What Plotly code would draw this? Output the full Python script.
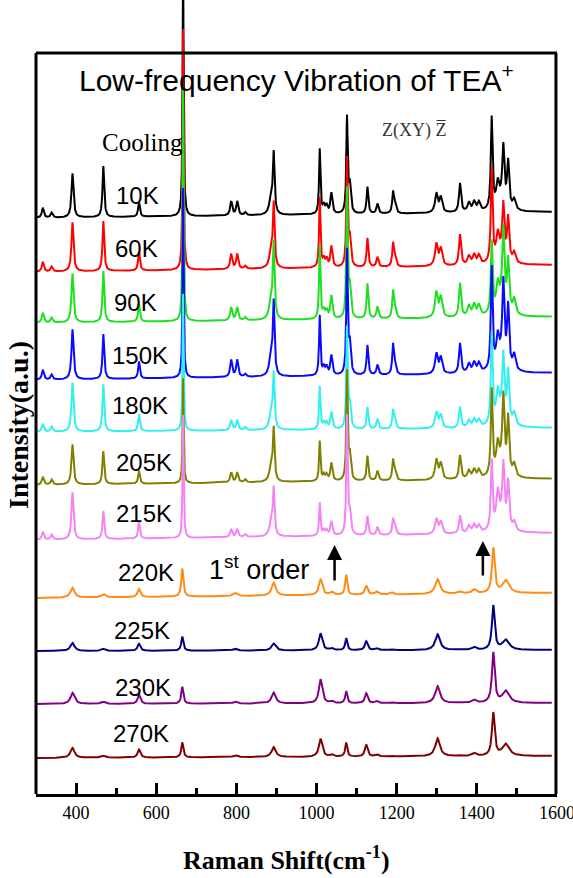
import numpy as np
import plotly.graph_objects as go

# ---------------- data ----------------
labels = ["10K", "60K", "90K", "150K", "180K", "205K", "215K",
          "220K", "225K", "230K", "270K"]
colors = ["#000000", "#FF0000", "#1EE01E", "#0A0AFF", "#33F0F0", "#808000",
          "#F582F5", "#FF8A14", "#000080", "#800080", "#800000"]

# baseline pixel rows (left end, right end) of every spectrum
base_left_px = [218, 272, 323, 380, 432, 485, 540, 598, 651, 704, 758]
base_right_px = [212, 265, 317, 373, 428, 479, 533, 593, 650, 703, 756]

# low-temperature phase (10K ... 215K): band centres, half widths, heights
lt_pos = [317, 339, 391, 468, 557, 667, 787, 802, 822, 886, 893, 1008, 1018,
          1025, 1037, 1076, 1083, 1127, 1152, 1191, 1196, 1299, 1310, 1358,
          1380, 1393, 1405, 1437, 1452, 1460, 1466, 1478, 1493]
lt_hwhm = [3, 3, 3, 2.5, 2.5, 1.5, 3, 3, 3, 5, 2.5, 2, 3, 3, 3, 2, 3, 2.5, 3,
           2.5, 3, 4, 4, 3, 4, 4, 4, 2.5, 4, 15, 3, 3, 4]
lt_heights = {
    "10K":  [10, 5, 44, 51, 15, 260, 14, 14, 3, 15, 60, 65, 8, 8, 21, 95, 28,
             27, 10, 21, 8, 19, 15, 29, 9, 10, 9, 91, 20, 12, 55, 45, 10],
    "60K":  [10, 5, 49, 50, 19, 241, 15, 15, 3, 15, 63, 70, 8, 8, 21, 107, 28,
             29, 10, 23, 8, 22, 17, 31, 9, 10, 9, 93, 22, 12, 50, 42, 10],
    "90K":  [10, 5, 49, 51, 18, 235, 13, 13, 3, 18, 74, 74, 8, 8, 23, 128, 30,
             35, 12, 27, 8, 25, 20, 34, 11, 12, 11, 71, 22, 15, 75, 50, 15],
    "150K": [10, 5, 50, 45, 17, 190, 17, 17, 3, 18, 72, 60, 8, 8, 20, 123, 30,
             30, 10, 30, 8, 20, 16, 30, 9, 10, 9, 101, 25, 15, 78, 60, 15],
    "180K": [8, 5, 49, 47, 17, 137, 10, 10, 3, 14, 55, 43, 6, 6, 17, 100, 24,
             22, 10, 18, 8, 16, 13, 21, 7, 8, 7, 90, 25, 15, 60, 50, 12],
    "205K": [8, 5, 40, 33, 13, 105, 10, 10, 3, 13, 52, 40, 6, 6, 18, 108, 24,
             25, 10, 20, 8, 20, 16, 24, 8, 9, 8, 85, 24, 15, 70, 55, 12],
    "215K": [8, 5, 47, 28, 17, 123, 8, 8, 3, 12, 47, 33, 5, 5, 14, 118, 22,
             19, 8, 15, 8, 15, 12, 18, 7, 8, 7, 68, 30, 15, 56, 45, 8],
}

# high-temperature phase (220K ... 270K)
ht_pos = [391, 468, 557, 665, 797, 893, 1010, 1038, 1074, 1124, 1150, 1187,
          1302, 1357, 1393, 1441, 1472]
ht_hwhm = [6, 6, 4, 3, 6, 6, 5, 5, 3, 4, 5, 5, 7, 6, 6, 4, 10]
ht_heights = {
    "220K": [10, 3, 8, 28, 3, 13, 16, 3, 20, 9, 3, 2, 15, 2, 4, 45, 13],
    "225K": [8, 2, 7, 14, 2, 7, 17, 2, 12, 9, 2, 1, 16, 1, 3, 44, 10],
    "230K": [11, 2, 9, 17, 2, 11, 24, 2, 12, 10, 2, 1, 17, 1, 3, 50, 12],
    "270K": [10, 2, 8, 15, 2, 10, 18, 2, 14, 12, 2, 1, 18, 1, 3, 43, 12],
}

tick_values = [400, 600, 800, 1000, 1200, 1400, 1600]
minor_values = [500, 700, 900, 1100, 1300, 1500]

x_start, x_end = 300, 1587
# ------------------------------------------------------------

FIG_W, FIG_H = 573, 878
PLOT_H = 794  # pixel rows of plotting area (top of page to x axis)
TOP_PX = 53   # frame top row
SERIF = "Liberation Serif, Times New Roman, serif"
SANS = "Liberation Sans, Arial, sans-serif"

x = np.arange(x_start, x_end + 0.01, 0.25)


def spectrum(pos, hwhm, hts):
    y = np.zeros_like(x)
    for p, w, h in zip(pos, hwhm, hts):
        y += h / (1.0 + ((x - p) / w) ** 2)
    return y


fig = go.Figure()
for i, lab in enumerate(labels):
    if lab in lt_heights:
        sig = spectrum(lt_pos, lt_hwhm, lt_heights[lab])
    else:
        sig = spectrum(ht_pos, ht_hwhm, ht_heights[lab])
    b0 = PLOT_H - base_left_px[i]
    b1 = PLOT_H - base_right_px[i]
    base = b0 + (b1 - b0) * (x - x_start) / (x_end - x_start)
    fig.add_trace(go.Scatter(x=x, y=base + sig, mode="lines",
                             line=dict(color=colors[i], width=2),
                             name=lab, showlegend=False, hoverinfo="skip"))

label_pos = [(137, 195), (136, 248), (135, 302), (140, 355), (140, 405),
             (144, 462), (144, 513), (146, 572), (142, 630), (143, 687),
             (141, 733)]

annotations = []
for lab, (px, py) in zip(labels, label_pos):
    annotations.append(dict(
        x=300 + (px - 36) / 0.4, y=PLOT_H - py, xref="x", yref="y",
        text=lab, showarrow=False, xanchor="center", yanchor="middle",
        font=dict(family=SANS, size=24, color="black")))

annotations += [
    dict(x=300 + (296 - 36) / 0.4, y=PLOT_H - 78, xref="x", yref="y",
         text="Low-frequency Vibration of TEA<sup>+</sup>", showarrow=False,
         xanchor="center", yanchor="middle",
         font=dict(family=SANS, size=30, color="black")),
    dict(x=300 + (142 - 36) / 0.4, y=PLOT_H - 142, xref="x", yref="y",
         text="Cooling", showarrow=False, xanchor="center", yanchor="middle",
         font=dict(family=SERIF, size=25, color="black")),
    dict(x=300 + (413 - 36) / 0.4, y=PLOT_H - 130, xref="x", yref="y",
         text="Z(XY) Z\u0305", showarrow=False, xanchor="center",
         yanchor="middle",
         font=dict(family=SERIF, size=18, color="#333333")),
    dict(x=300 + (207 - 36) / 0.4, y=PLOT_H - 568, xref="x", yref="y",
         text="1<sup>st</sup> order", showarrow=False, xanchor="left",
         yanchor="middle",
         font=dict(family=SANS, size=27, color="black")),
    # arrows marking the 1st-order features
    dict(x=1045, y=PLOT_H - 545, ax=1045, ay=PLOT_H - 582, xref="x", yref="y",
         axref="x", ayref="y", text="", showarrow=True, arrowhead=2,
         arrowsize=1.2, arrowwidth=2.5, arrowcolor="black", standoff=0),
    dict(x=1415, y=PLOT_H - 541, ax=1415, ay=PLOT_H - 577, xref="x", yref="y",
         axref="x", ayref="y", text="", showarrow=True, arrowhead=2,
         arrowsize=1.2, arrowwidth=2.5, arrowcolor="black", standoff=0),
    # axis titles
    dict(x=(286 - 36) / 521, y=-(858 - PLOT_H) / PLOT_H, xref="paper",
         yref="paper", text="<b>Raman Shift(cm<sup>-1</sup>)</b>",
         showarrow=False, xanchor="center", yanchor="middle",
         font=dict(family=SERIF, size=26, color="black")),
    dict(x=(18 - 36) / 521, y=(PLOT_H - 425) / PLOT_H, xref="paper",
         yref="paper", text="<b>Intensity(a.u.)</b>", textangle=-90,
         showarrow=False, xanchor="center", yanchor="middle",
         font=dict(family=SERIF, size=28, color="black")),
]

frame_top = PLOT_H - TOP_PX
frame = dict(color="black", width=3)
shapes = [
    dict(type="line", xref="paper", yref="y", x0=0, x1=1, y0=frame_top,
         y1=frame_top, line=frame, layer="above"),
    dict(type="line", xref="paper", yref="y", x0=0, x1=0, y0=0,
         y1=frame_top, line=frame, layer="above"),
    dict(type="line", xref="paper", yref="y", x0=0.998, x1=0.998, y0=0,
         y1=frame_top, line=frame, layer="above"),
]

fig.update_layout(
    width=FIG_W, height=FIG_H,
    margin=dict(l=36, r=FIG_W - 36 - 521, t=0, b=FIG_H - PLOT_H,
                autoexpand=False),
    paper_bgcolor="white", plot_bgcolor="white",
    annotations=annotations,
    shapes=shapes,
    xaxis=dict(range=[300, 1600], showgrid=False, zeroline=False,
               showline=True, linecolor="black", linewidth=3,
               ticks="inside", ticklen=11, tickwidth=3,
               tickcolor="black", tickmode="array", tickvals=tick_values,
               automargin=False, ticklabeloverflow="allow",
               tickfont=dict(family=SERIF, size=18, color="black"),
               minor=dict(ticks="inside", ticklen=6, tickwidth=3,
                          tickcolor="black", tickmode="array",
                          tickvals=minor_values)),
    yaxis=dict(range=[0, PLOT_H], visible=False, showgrid=False,
               zeroline=False),
)

fig.write_html("out.html")
